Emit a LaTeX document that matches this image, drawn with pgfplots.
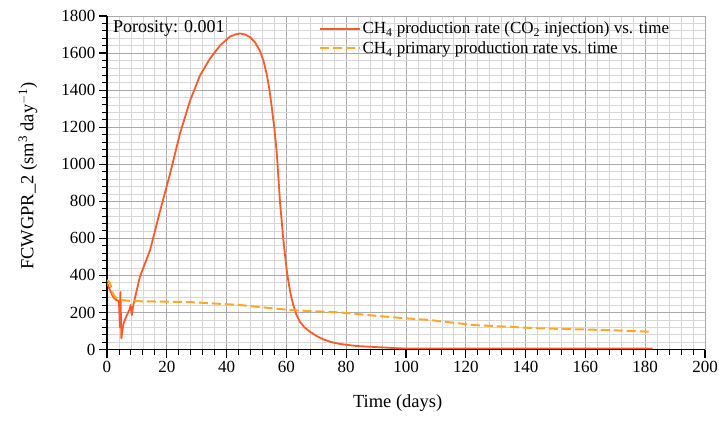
\documentclass[border=0pt]{standalone}
\usepackage{pgfplots}
\pgfplotsset{compat=1.18}
\usepackage{fontspec}
\setmainfont{Liberation Serif}
\usetikzlibrary{calc}
\definecolor{redline}{RGB}{255,90,40}
\definecolor{orangeline}{RGB}{255,168,40}
\definecolor{majgrid}{RGB}{170,170,170}
\definecolor{mingrid}{RGB}{215,215,215}
\begin{document}
\begin{tikzpicture}
\begin{axis}[
  name=ax,
  scale only axis,
  width=598pt, height=333.5pt,
  xmin=0, xmax=200, ymin=0, ymax=1800,
  xtick={0,20,...,200}, ytick={0,200,...,1800},
  minor x tick num=4, minor y tick num=4,
  axis x line=bottom, axis y line=left,
  axis line style={-, line width=1.4pt, black},
  tick align=outside,
  major tick length=8pt, minor tick length=5pt,
  tick style={black, line width=1.2pt},
  minor tick style={black, line width=0.9pt},
  grid=both,
  major grid style={majgrid, line width=0.9pt, solid},
  minor grid style={mingrid, line width=0.7pt, solid},
  ticklabel style={font=\fontsize{17}{20}\selectfont},
  /pgf/number format/assume math mode=true,
  /pgf/number format/1000 sep={},
  xlabel={Time (days)},
  ylabel={FCWGPR\_2 (sm\textsuperscript{3} day\textsuperscript{$-$1})},
  label style={font=\fontsize{18.5}{21}\selectfont},
  xlabel style={at={(axis description cs:0.486,0)}, anchor=north, yshift=-42pt},
  ylabel style={at={(axis description cs:0,0.52)}, anchor=south, yshift=66pt},
  legend style={draw=none, fill=none, at={(axis cs:70,1790)}, anchor=north west,
    font=\fontsize{17}{19}\selectfont, row sep=2.5pt, inner sep=2pt},
  legend cell align=left,
  legend image code/.code={\draw[#1] (0pt,0pt) -- (40pt,0pt);},
]
\addplot[redline, line width=1.8pt, line join=round] coordinates {
(0,360) (1,320) (2,285) (3,268) (4,262) (4.3,120) (4.5,310) (4.8,60) (5.5,140)
(6.5,180) (7.5,215) (7.9,240) (8.3,186) (8.8,240) (11,392) (14.4,536) (17.7,745)
(21.1,949) (24.4,1165) (27.8,1344) (31.1,1479) (34.4,1569) (37.8,1641) (41.1,1688)
(42.8,1700) (44.5,1706) (46.2,1700) (47.8,1686) (49.5,1658) (51.2,1610) (52.3,1560)
(53.4,1488) (54.3,1405) (55.1,1308) (56,1190) (56.8,1057) (57.9,788)
(59,590) (60.1,428) (60.6,374) (61.4,300) (62.3,240) (63.3,190) (64.5,150) (66,120)
(67.9,96) (70,74) (72.3,55) (75,40) (77.9,30)
(83.4,19) (91.3,12) (98,6) (110,5) (140,5) (182.5,5)
};
\addlegendentry{CH\textsubscript{4} production rate (CO\textsubscript{2} injection) vs. time}
\addplot[orangeline, line width=2pt, dash pattern=on 9pt off 4pt] coordinates {
(0,375) (1,360) (2,300) (2.7,284) (4.3,267) (8.8,261) (20,258) (27.8,256) (44.5,240)
(61.2,213) (77.9,200) (91.3,180) (100.2,168) (108,159) (122.5,132) (144.8,114)
(167.1,105) (181.6,96)
};
\addlegendentry{CH\textsubscript{4} primary production rate vs. time}
\node[anchor=west, inner sep=0pt, font=\fontsize{18}{20}\selectfont] at (axis cs:2,1732) {Porosity: 0.001};
\end{axis}
\pgfresetboundingbox
\path ($(ax.south west)+(-107pt,-78.5pt)$) rectangle ($(ax.north east)+(14pt,16pt)$);
\end{tikzpicture}
\end{document}
